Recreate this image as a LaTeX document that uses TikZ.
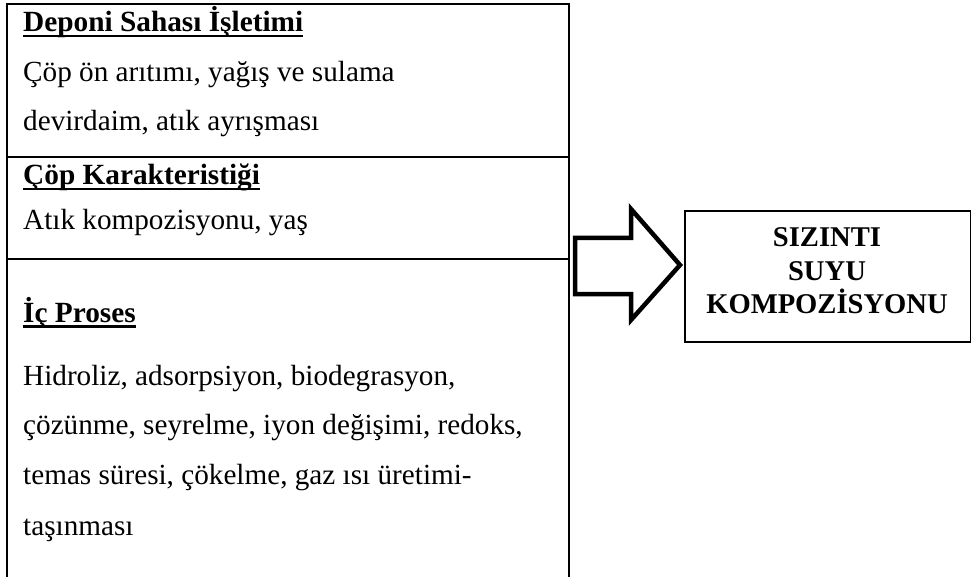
\documentclass[tikz,border=0pt]{standalone}
\usepackage{fontspec}
\setmainfont{Liberation Serif}
\newcommand{\myul}[1]{\setbox0\hbox{#1}\rlap{\rule[-5.5pt]{\wd0}{2.7pt}}\box0}
\begin{document}
\begin{tikzpicture}[x=1pt,y=-1pt,
  txt/.style={anchor=base west, inner sep=0pt, font=\fontsize{29.2}{34}\selectfont},
  hd/.style={anchor=base west, inner sep=0pt, font=\fontsize{29.3}{34}\selectfont\bfseries},
  ctr/.style={anchor=base, inner sep=0pt, font=\fontsize{28.6}{33}\selectfont\bfseries},
  frame/.style={line width=2.2pt},
  resbox/.style={draw, line width=2.2pt, minimum width=286pt, minimum height=131pt, anchor=north west, inner sep=0pt},
  bigarrow/.style={line width=4.5pt, line join=miter, miter limit=10},
]
\useasboundingbox (0,0) rectangle (971,577);

% left panel frame
\coordinate (tl) at (7,4);
\coordinate (tr) at (569,4);
\coordinate (bl) at (7,577);
\coordinate (br) at (569,577);
\coordinate (d1l) at (7,157);
\coordinate (d1r) at (569,157);
\coordinate (d2l) at (7,259);
\coordinate (d2r) at (569,259);
\draw[frame] (bl) -- (tl) -- (tr) -- (br);
\draw[frame] (d1l) -- (d1r);
\draw[frame] (d2l) -- (d2r);

% texts
\node[hd]  (h1) at (23,32)  {\myul{Deponi Sahası İşletimi}};
\node[txt] (t1) at (23,82)  {Çöp ön arıtımı, yağış ve sulama};
\node[txt] (t2) at (23,131) {devirdaim, atık ayrışması};
\node[hd]  (h2) at (23,185) {\myul{Çöp Karakteristiği}};
\node[txt] (t3) at (23,230) {Atık kompozisyonu, yaş};
\node[hd]  (h3) at (23,322) {\myul{İç Proses}};
\node[txt] (t4) at (23,385) {Hidroliz, adsorpsiyon, biodegrasyon,};
\node[txt] (t5) at (23,434) {çözünme, seyrelme, iyon değişimi, redoks,};
\node[txt] (t6) at (23,484) {temas süresi, çökelme, gaz ısı üretimi-};
\node[txt] (t7) at (23,535) {taşınması};

% block arrow
\coordinate (a1) at (575,238);
\coordinate (a2) at (631,238);
\coordinate (a3) at (631,209);
\coordinate (a4) at (680,265);
\coordinate (a5) at (631,320);
\coordinate (a6) at (631,294);
\coordinate (a7) at (575,294);
\draw[bigarrow] (a1) -- (a2) -- (a3) -- (a4) -- (a5) -- (a6) -- (a7) -- cycle;

% result box
\node[resbox] (res) at (684,210) {};
\node[ctr] (r1) at (827,247) {SIZINTI};
\node[ctr] (r2) at (827,280) {SUYU};
\node[ctr] (r3) at (827,313) {KOMPOZİSYONU};
\end{tikzpicture}
\end{document}
